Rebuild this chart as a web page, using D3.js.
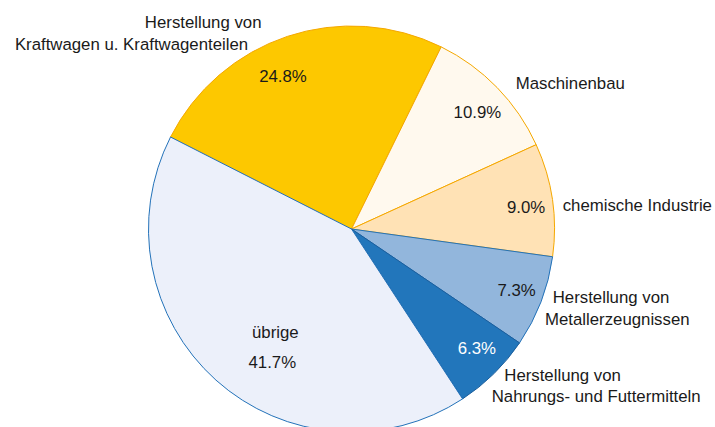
<!DOCTYPE html>
<html>
<head>
<meta charset="utf-8">
<script src="https://cdn.jsdelivr.net/npm/d3@7/dist/d3.min.js"></script>
<style>
  html, body { margin: 0; padding: 0; background: #fff; }
  svg { display: block; }
  text { font-family: "Liberation Sans", Arial, sans-serif; font-size: 16.8px; fill: #1a1a1a; }
</style>
</head>
<body>
<svg id="chart" width="715" height="427"></svg>
<script>
// ---- data ----
const categories = [
  "Herstellung von Kraftwagen u. Kraftwagenteilen",
  "Maschinenbau",
  "chemische Industrie",
  "Herstellung von Metallerzeugnissen",
  "Herstellung von Nahrungs- und Futtermitteln",
  "übrige"
];
const shares = [24.8, 10.9, 9.0, 7.3, 6.3, 41.7];
const valueLabels = ["24.8%", "10.9%", "9.0%", "7.3%", "6.3%", "41.7%"];
const nameLines = [
  ["Herstellung von", "Kraftwagen u. Kraftwagenteilen"],
  ["Maschinenbau"],
  ["chemische Industrie"],
  ["Herstellung von", "Metallerzeugnissen"],
  ["Herstellung von", "Nahrungs- und Futtermitteln"],
  ["übrige"]
];

// ---- styles / layout ----
const fills   = ["#FDC800", "#FFF9EE", "#FFE2B5", "#92B6DC", "#2276BB", "#ECF0FA"];
const strokes = ["#F5A800", "#F5A800", "#F5A800", "#2372B9", "#1B5E9C", "#2372B9"];
const valueColors = ["#1a1a1a", "#1a1a1a", "#1a1a1a", "#1a1a1a", "#ffffff", "#1a1a1a"];
const cx = 351.5, cy = 229, R = 203;
const startDeg = -63.06;
// inner value label placement: angle shift (deg) from slice middle, radius fraction
const innerShift = [-5.7, 1.3, 1.2, -0.7, -1.9];
const innerRad   = [0.826, 0.846, 0.867, 0.867, 0.852];
// outer name label lines: [angle deg, radius px, anchor]
const outerPos = [
  [[-24.1, 220.5, "end"], [-30.0, 206.8, "end"]],
  [[49.6, 215.6, "start"]],
  [[85.1, 212, "start"]],
  [[110.1, 214.3, "start"], [116.4, 216, "start"]],
  [[134.85, 215.5, "start"], [140.9, 222.4, "start"]],
  null
];

const svg = d3.select("#chart");
const g = svg.append("g").attr("transform", `translate(${cx},${cy})`);

const rad = d => d * Math.PI / 180;
const pie = d3.pie().sort(null).value(d => d)
  .startAngle(rad(startDeg)).endAngle(rad(startDeg) + 2 * Math.PI);
const arcs = pie(shares);
const arc = d3.arc().innerRadius(0).outerRadius(R);

g.selectAll("path.slice").data(arcs).enter().append("path")
  .attr("class", "slice")
  .attr("d", arc)
  .attr("fill", (d, i) => fills[i])
  .attr("stroke", (d, i) => strokes[i])
  .attr("stroke-width", 1)
  .attr("stroke-linejoin", "round");

const polar = (deg, r) => [r * Math.sin(rad(deg)), -r * Math.cos(rad(deg))];

// value labels inside
arcs.forEach((a, i) => {
  const mid = (a.startAngle + a.endAngle) / 2 * 180 / Math.PI;
  if (i < 5) {
    const [x, y] = polar(mid + innerShift[i], innerRad[i] * R);
    g.append("text").attr("x", x).attr("y", y).attr("dy", "0.35em")
      .attr("text-anchor", "middle").style("fill", valueColors[i])
      .text(valueLabels[i]);
  } else {
    // übrige: name + value inside, stacked
    const [x, y] = polar(mid - 8, 0.70 * R);
    g.append("text").attr("x", x + 3).attr("y", y - 15).attr("dy", "0.35em")
      .attr("text-anchor", "middle").text(nameLines[i][0]);
    g.append("text").attr("x", x).attr("y", y + 15).attr("dy", "0.35em")
      .attr("text-anchor", "middle").style("fill", valueColors[i])
      .text(valueLabels[i]);
  }
});

// outer name labels
nameLines.forEach((lines, i) => {
  if (!outerPos[i]) return;
  lines.forEach((line, j) => {
    const [deg, r, anchor] = outerPos[i][j];
    const [x, y] = polar(deg, r);
    g.append("text").attr("x", x).attr("y", y)
      .attr("text-anchor", anchor).text(line);
  });
});
</script>
</body>
</html>
